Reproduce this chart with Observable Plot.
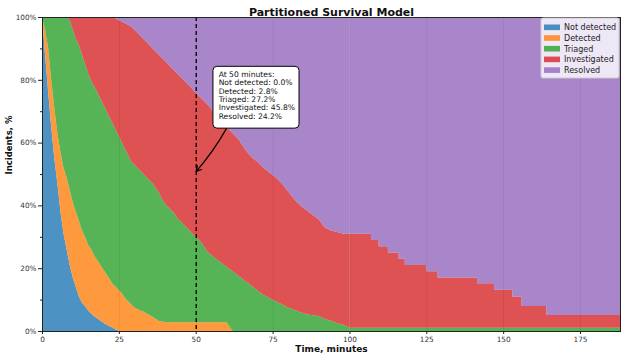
<!DOCTYPE html>
<html><head><meta charset="utf-8">
<script src="https://cdn.jsdelivr.net/npm/d3@7"></script>
<script src="https://cdn.jsdelivr.net/npm/@observablehq/plot@0.6"></script>
<style>
html,body{margin:0;padding:0;background:#fff;}
#chart{width:624px;height:361px;position:relative;}
svg{font-family:"DejaVu Sans",sans-serif;}
</style></head><body><div id="chart"></div>
<script>
const states = ["Not detected", "Detected", "Triaged", "Investigated", "Resolved"];
const stateColors = ["#1f77b4", "#ff7f0e", "#2ca02c", "#d62728", "#9467bd"];

const times = [0,1,2,3,4,5,6,7,8,9,10,11,12,13,14,15,16,17,18,19,20,21,22,23,24,25,26,27,28,29,30,
  31,32,33,34,35,36,37,38,39,40,41,42,43,44,45,46,47,48,49,50,
  52,54,56,58,60,62,64,66,68,70,72,74,76,78,80,82,84,86,88,90,92,94,96,98,100,
  107,109.5,112.5,116,118,125,128.5,141.5,147,153,156,164,188];

const notDetected = [100,88,76,65,55,47,38,31,26,21,17,14,11,9,8,6.5,5.5,4.7,4,3.3,2.6,2,1.5,1,0.5,0,0,0,0,0,0,
  0,0,0,0,0,0,0,0,0,0,0,0,0,0,0,0,0,0,0,0,
  0,0,0,0,0,0,0,0,0,0,0,0,0,0,0,0,0,0,0,0,0,0,0,0,0,
  0,0,0,0,0,0,0,0,0,0,0,0,0];
const detected = [0,8,14,15,16,16,19,21,23,24,24,24,24,23,22,21,20.5,19.3,18.5,17.7,16.9,16,15,14,13.5,13,12,10.5,9.5,8.5,7.5,
  7,6.5,6.2,5.6,5.1,4.5,3.8,3.2,3,2.9,2.8,2.8,2.8,2.8,2.8,2.8,2.8,2.8,2.8,2.8,
  2.8,2.8,2.8,2.8,2.8,0,0,0,0,0,0,0,0,0,0,0,0,0,0,0,0,0,0,0,0,
  0,0,0,0,0,0,0,0,0,0,0,0,0];
const triaged = [0,4,10,20,29,37,43,48,51,54,55,55,56,56,55,54.5,53.5,54,53.5,53,52.5,52,51.5,51,50,49,48,47.5,46.5,45.5,45.5,
  45,44.5,43.8,43.4,42.9,42.5,41.7,40.8,39,37.6,36.7,35.7,34.7,33.2,32.2,31.2,30.2,29.2,28.2,27.2,
  25.2,22.2,20.7,19.2,17.7,19,17.5,16,14.5,13,11.5,10.5,9.5,8.5,7.5,6.8,6,5.3,5,4.8,3.8,3.3,2.5,2,1,
  1,1,1,1,1,1,1,1,1,1,1,1,1];
const investigated = [0,0,0,0,0,0,0,0,0,1,4,7,9,12,15,18,20.5,22,24,26,28,30,32,34,35.5,37,38.5,40,41.5,43,43,
  43,43,43,43,43,43,43.5,44,45,45.5,45.5,45.5,45.5,46,46,46,46,46,46,45.8,
  46,47,46,45,44.5,44,43.5,42,41,41,40.5,40,39.5,38.5,37,35.2,34,33.2,32,30.7,29.2,28.7,29,29,30,
  28,26,24,22,20,18,16,14.2,12.1,9.9,7,4.1,4.1];
const resolved = [0,0,0,0,0,0,0,0,0,0,0,0,0,0,0,0,0,0,0,0,0,0,0,0,0.5,1,1.5,2,2.5,3,4,
  5,6,7,8,9,10,11,12,13,14,15,16,17,18,19,20,21,22,23,24.2,
  26,28,30.5,33,35,37,39,42,44.5,46,48,49.5,51,53,55.5,58,60,61.5,63,64.5,67,68,68.5,69,69,
  71,73,75,77,79,81,83,84.8,86.9,89.1,92,94.9,94.9];

const xTicks = [0,25,50,75,100,125,150,175];
const yTicks = [0,20,40,60,80,100];
const yMinorTicks = [10,30,50,70,90];
const annotationTime = 50;
const stepsFrom = 100; // beyond this time the survival curves show coarse steps

const series = [notDetected, detected, triaged, investigated, resolved];
const rows = [];
states.forEach((s, i) => times.forEach((t, j) => rows.push({time: t, state: s, value: series[i][j]})));

const at = times.indexOf(annotationTime);
const annotText = ["At " + annotationTime + " minutes:"]
  .concat(states.map((s, i) => s + ": " + series[i][at].toFixed(1) + "%")).join("\n");

// annotation placement (data units)
const box = {x1: 55.6, x2: 83.6, y1: 64.6, y2: 84.3};
const arrowSpec = {x1: 59.8, y1: 64.6, x2: annotationTime, y2: 51};

const font = "DejaVu Sans";
const areaOpts = {x: "time", y: "value", fill: "state", order: states, fillOpacity: 0.8};
const plot = Plot.plot({
  width: 624, height: 361,
  marginLeft: 42, marginRight: 4, marginTop: 17, marginBottom: 30,
  style: {fontFamily: font, fontSize: "7px", background: "white", color: "#222", overflow: "visible"},
  x: {domain: [0, 188], label: null},
  y: {domain: [0, 100], label: null},
  color: {domain: states, range: stateColors},
  marks: [
    Plot.gridX(xTicks, {stroke: "#b0b0b0", strokeOpacity: 0.6}),
    Plot.areaY(rows.filter(d => d.time <= stepsFrom), {...areaOpts, curve: "linear"}),
    Plot.areaY(rows.filter(d => d.time >= stepsFrom), {...areaOpts, curve: "step-after"}),
    Plot.ruleX([annotationTime], {stroke: "black", strokeDasharray: "4,3", strokeWidth: 1.3}),
    Plot.rect([box], {x1: "x1", x2: "x2", y1: "y1", y2: "y2", fill: "white", stroke: "black", strokeWidth: 1, rx: 4}),
    Plot.text([annotText], {x: box.x1 + 1.7, y: box.y2 - 1.3, text: d => d, textAnchor: "start", lineAnchor: "top", fontSize: 7.6, lineHeight: 1.1, fill: "#111"}),
    Plot.arrow([arrowSpec], {x1: "x1", y1: "y1", x2: "x2", y2: "y2", stroke: "black", strokeWidth: 1.2, headLength: 7, bend: 6}),
    Plot.frame({stroke: "#222", strokeWidth: 1}),
    Plot.axisX(xTicks, {tickSize: 3, tickPadding: 2, fontSize: 7.3, label: null, fill: "#333"}),
    Plot.axisY(yTicks, {tickSize: 4, tickPadding: 2, fontSize: 7.3, tickFormat: d => d + "%", label: null, fill: "#333"}),
    Plot.axisY(yMinorTicks, {tickSize: 2, fill: "none", label: null}),
    Plot.text(["Partitioned Survival Model"], {frameAnchor: "top", dy: -9, fontSize: 11, fontWeight: "bold", fill: "#111"}),
    Plot.text(["Time, minutes"], {frameAnchor: "bottom", dy: 20, fontSize: 9, fontWeight: "bold", fill: "#111"}),
    Plot.text(["Incidents, %"], {frameAnchor: "left", dx: -33, rotate: -90, fontSize: 8.5, fontWeight: "bold", fill: "#111"})
  ]
});
document.getElementById("chart").appendChild(plot);

// legend (layout element, top-right inside frame)
const svg = d3.select(plot);
const lg = svg.append("g").attr("font-family", font).attr("font-size", 8).attr("text-anchor", "start");
lg.append("rect").attr("x", 541).attr("y", 18).attr("width", 78).attr("height", 60)
  .attr("rx", 2).attr("fill", "white").attr("fill-opacity", 0.8).attr("stroke", "#cccccc");
states.forEach((s, i) => {
  const cy = 27.3 + i * 10.7;
  lg.append("rect").attr("x", 544).attr("y", cy - 2.8).attr("width", 16).attr("height", 5.6)
    .attr("fill", stateColors[i]).attr("fill-opacity", 0.8);
  lg.append("text").attr("x", 564).attr("y", cy).attr("dy", "0.35em").attr("text-anchor", "start")
    .attr("fill", "#222").text(s);
});
</script></body></html>
